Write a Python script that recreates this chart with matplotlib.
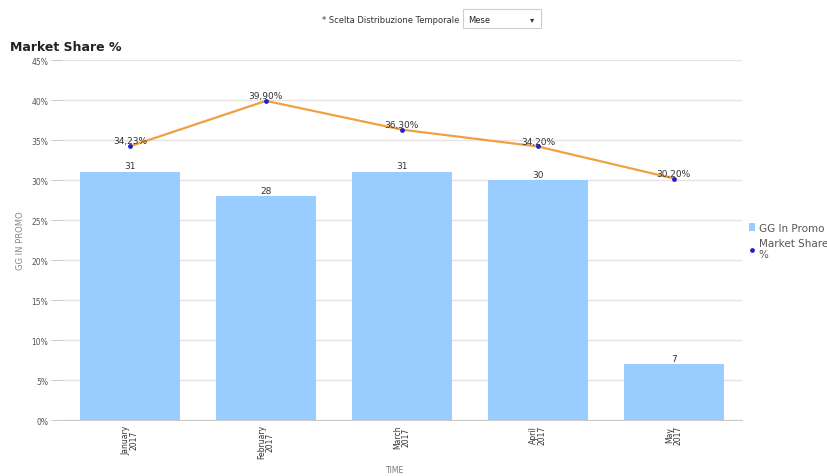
import matplotlib.pyplot as plt
from matplotlib.patches import Rectangle

months = ['January\n2017', 'February\n2017', 'March\n2017', 'April\n2017', 'May\n2017']
gg_in_promo = [31, 28, 31, 30, 7]
market_share = [34.23, 39.90, 36.30, 34.20, 30.20]
y_ticks = [0, 5, 10, 15, 20, 25, 30, 35, 40, 45]

fig = plt.figure(figsize=(8.27, 4.77), dpi=100)
ax = fig.add_axes([0.075, 0.117, 0.822, 0.755])

x = list(range(len(months)))

# bars
bars = ax.bar(x, gg_in_promo, width=0.74, color='#99ccff', label='GG In Promo', zorder=2)
for xi, v in zip(x, gg_in_promo):
    ax.text(xi, v + 0.2, str(v), ha='center', va='bottom', fontsize=6.5, color='#333333')

# market share line
ax.plot(x, market_share, color='#f0a040', linewidth=1.6, zorder=3)
pts = ax.scatter(x, market_share, color='#2020d0', s=6, zorder=4, label='Market Share\n%')
for xi, v in zip(x, market_share):
    ax.text(xi, v + 0.1, f'{v:.2f}%'.replace('.', ','), ha='center', va='bottom',
            fontsize=6.5, color='#333333', zorder=5)

ax.set_xlim(-0.5, 4.5)
ax.set_ylim(0, 45)
ax.set_yticks(y_ticks)
ax.set_yticklabels([f'{t}%' for t in y_ticks], fontsize=5.5, color='#555555')
ax.set_xticks(x)
ax.set_xticklabels(months, rotation=90, fontsize=5.5, color='#333333', linespacing=0.9)
ax.tick_params(axis='y', length=8, color='#cccccc', pad=2)
ax.tick_params(axis='x', length=0, pad=3)
ax.grid(axis='y', color='#e4e4e4', linewidth=1, zorder=0)
for s in ['top', 'right', 'left']:
    ax.spines[s].set_visible(False)
ax.spines['bottom'].set_color('#cccccc')

ax.set_ylabel('GG IN PROMO', fontsize=6, color='#888888')
ax.yaxis.set_label_coords(-0.055, 0.5)
ax.set_xlabel('TIME', fontsize=5.5, color='#777777')
ax.xaxis.set_label_coords(0.49, -0.125)

leg = ax.legend(handles=[bars, pts], loc='upper left', bbox_to_anchor=(1.005, 0.56),
                frameon=False, fontsize=7.5, handlelength=0.5, handletextpad=0.4,
                labelspacing=0.5, borderaxespad=0)
for t in leg.get_texts():
    t.set_color('#555555')

# title and top filter control
fig.text(0.012, 0.893, 'Market Share %', fontsize=9, fontweight='bold', color='#222222')
fig.text(0.555, 0.958, '* Scelta Distribuzione Temporale', fontsize=6, color='#333333',
         ha='right', va='center')
fig.patches.append(Rectangle((0.560, 0.940), 0.094, 0.040, transform=fig.transFigure,
                             facecolor='white', edgecolor='#cccccc', linewidth=0.8))
fig.text(0.566, 0.958, 'Mese', fontsize=6, color='#222222', va='center')
fig.text(0.644, 0.958, '▾', fontsize=6, color='#333333', va='center', ha='center')

fig.savefig('out.png', dpi=100)
